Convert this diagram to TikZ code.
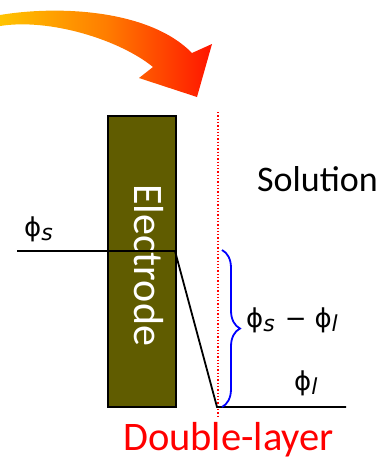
\documentclass[tikz,border=0pt]{standalone}
\usepackage{fontspec}
\setmainfont{Carlito}
\newfontfamily\dvfont{DejaVu Sans}
\usetikzlibrary{decorations.pathreplacing}
\definecolor{olivebox}{RGB}{96,92,0}
\definecolor{arrowyellow}{RGB}{255,195,0}
\definecolor{arroworange}{RGB}{255,125,0}
\definecolor{arrowred}{RGB}{255,20,0}
\newcommand\phisym[1]{{\dvfont\fontsize{26}{26}\selectfont ϕ\raisebox{-4pt}{\fontsize{22}{22}\selectfont\itshape #1}}}
\tikzset{
  potline/.style={line width=1.8pt, black},
  lbl/.style={inner sep=0pt, anchor=base west},
}
\begin{document}
\begin{tikzpicture}[x=1pt,y=-1pt]
\useasboundingbox (0,0) rectangle (380,459);
% curved arrow
\shade[left color=arrowyellow, right color=arrowred, middle color=arroworange]
  (0,15) .. controls (60,5) and (150,10) .. (192,53) -- (212,44) -- (197,97)
  -- (139,78) -- (153,67) .. controls (120,40) and (50,18) .. (0,26) -- cycle;
% electrode
\node[draw=black, line width=1.2pt, fill=olivebox, minimum width=68pt, minimum height=291pt, inner sep=0pt] (electrode) at (142,261.5) {};
\node[rotate=-90, text=white, font=\fontsize{42}{42}\selectfont] (electext) at (149,265) {Electrode};
% double layer
\coordinate (dltop) at (218,112);
\coordinate (dlbot) at (218,416);
\draw[red, line width=1.3pt, dotted] (dltop) -- (dlbot);
% potential profile
\coordinate (sstart) at (17,251);
\coordinate (send) at (175,251);
\coordinate (lstart) at (217,407);
\coordinate (lend) at (346,407);
\draw[potline] (sstart) -- (send) -- (lstart) -- (lend);
% brace
\coordinate (btop) at (222,250);
\coordinate (bbot) at (222,407);
\draw[blue, line width=1.8pt, decorate, decoration={brace, amplitude=18pt, aspect=0.5}] (btop) -- (bbot);
% labels
\node[lbl] (phis) at (24,236) {\phisym{s}};
\node[lbl] (diff) at (246,327) {\phisym{s}\hspace{10pt}{\dvfont\fontsize{26}{26}\selectfont −}\hspace{8pt}\phisym{l}};
\node[lbl] (phil) at (294,390) {\phisym{l}};
\node[lbl, font=\fontsize{36}{36}\selectfont] (solution) at (257,191) {Solution};
\node[lbl, text=red, font=\fontsize{40.5}{40.5}\selectfont] (dl) at (123,450) {Double-layer};
\end{tikzpicture}
\end{document}
